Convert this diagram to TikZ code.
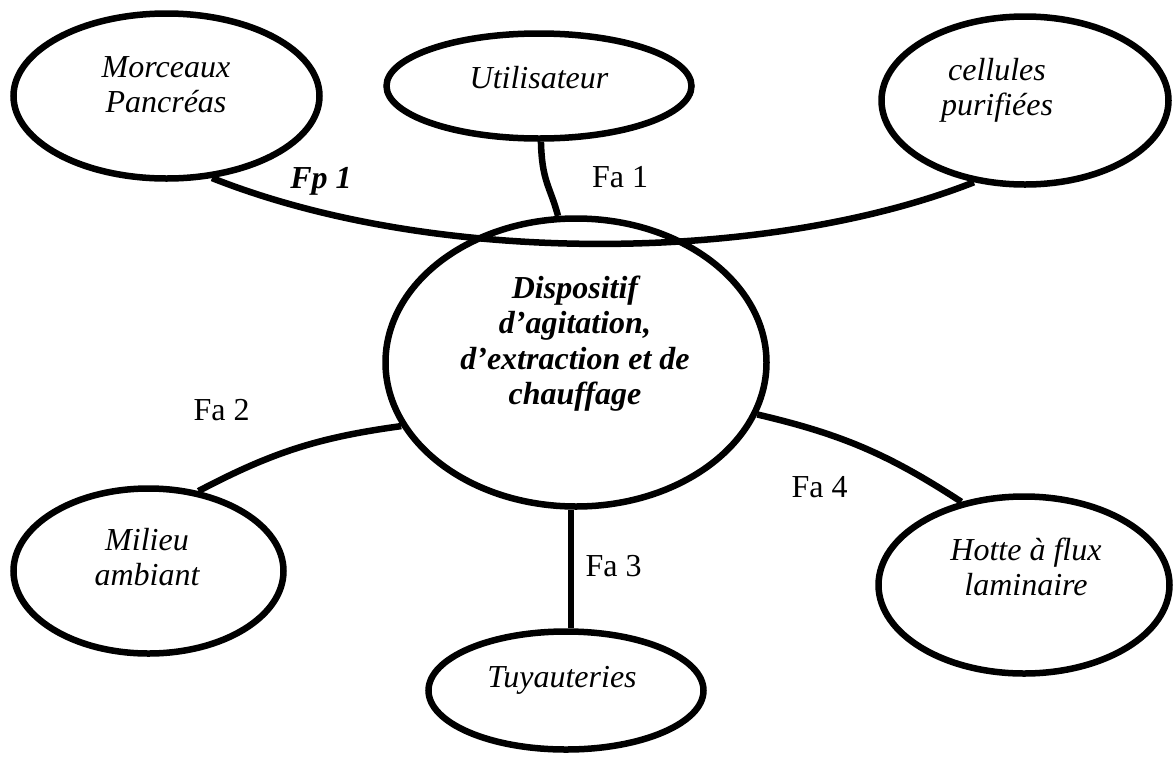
\documentclass[tikz,border=0pt]{standalone}
\usepackage{fontspec}
\setmainfont{Liberation Serif}
\usetikzlibrary{shapes.geometric}
\newcommand{\twoline}[2]{\begin{tabular}[t]{@{}c@{}}#1\\#2\end{tabular}}
\begin{document}
\begin{tikzpicture}[x=1pt,y=1pt,
  bubble/.style={ellipse,draw,line width=6.5pt,inner sep=0pt},
  link/.style={line width=6.5pt},
  txt/.style={anchor=base,inner sep=0pt,font=\fontsize{32}{35.5}\selectfont\itshape},
  ctxt/.style={anchor=base,inner sep=0pt,font=\fontsize{32}{35.5}\selectfont\bfseries\itshape},
  flab/.style={anchor=base,inner sep=0pt,font=\fontsize{32}{35.5}\selectfont}]
\useasboundingbox (0,0) rectangle (1173,-756);

% ellipses
\node[bubble,minimum width=306pt,minimum height=165pt] (morc) at (166.5,-96) {};
\node[bubble,minimum width=305pt,minimum height=105pt] (util) at (539,-86) {};
\node[bubble,minimum width=287pt,minimum height=168pt] (cell) at (1025,-100.5) {};
\node[bubble,minimum width=381pt,minimum height=288pt] (cen) at (576,-362.5) {};
\node[bubble,minimum width=270pt,minimum height=165pt] (mil) at (148.5,-571) {};
\node[bubble,minimum width=275pt,minimum height=118pt] (tuy) at (566,-690.5) {};
\node[bubble,minimum width=291pt,minimum height=177pt] (hot) at (1024,-585) {};

% texts
\node[txt] (tmorc) at (166,-77) {\twoline{Morceaux}{Pancréas}};
\node[txt] (tutil) at (539,-88) {Utilisateur};
\node[txt] (tcell) at (997,-80) {\twoline{cellules}{purifiées}};
\node[ctxt] (tcen) at (575,-298) {\begin{tabular}[t]{@{}c@{}}Dispositif\\d’agitation,\\d’extraction et de\\chauffage\end{tabular}};
\node[txt] (tmil) at (147,-550) {\twoline{Milieu}{ambiant}};
\node[txt] (ttuy) at (562,-687) {Tuyauteries};
\node[txt] (thot) at (1026,-560) {\twoline{Hotte à flux}{laminaire}};

% connectors
\draw[link] (morc.-61.6) .. controls +(227,-90) and +(-203,-80) .. (cell.-122.5);
\draw[link] (util.-88) .. controls +(1,-40) and +(-8,30) .. (cen.97.3);
\draw[link] (cen.-160.4) to[bend right=10] (mil.58.1);
\draw[link] (cen.-92) -- (cen.-92 |- tuy.north);
\draw[link] (cen.-16.6) to[bend left=10] (hot.127.1);

% labels
\node[ctxt] (fp1) at (321,-188) {Fp 1};
\node[flab] (fa1) at (620,-187) {Fa 1};
\node[flab] (fa2) at (221.5,-420) {Fa 2};
\node[flab] (fa3) at (613.5,-576) {Fa 3};
\node[flab] (fa4) at (819.5,-497) {Fa 4};
\end{tikzpicture}
\end{document}
